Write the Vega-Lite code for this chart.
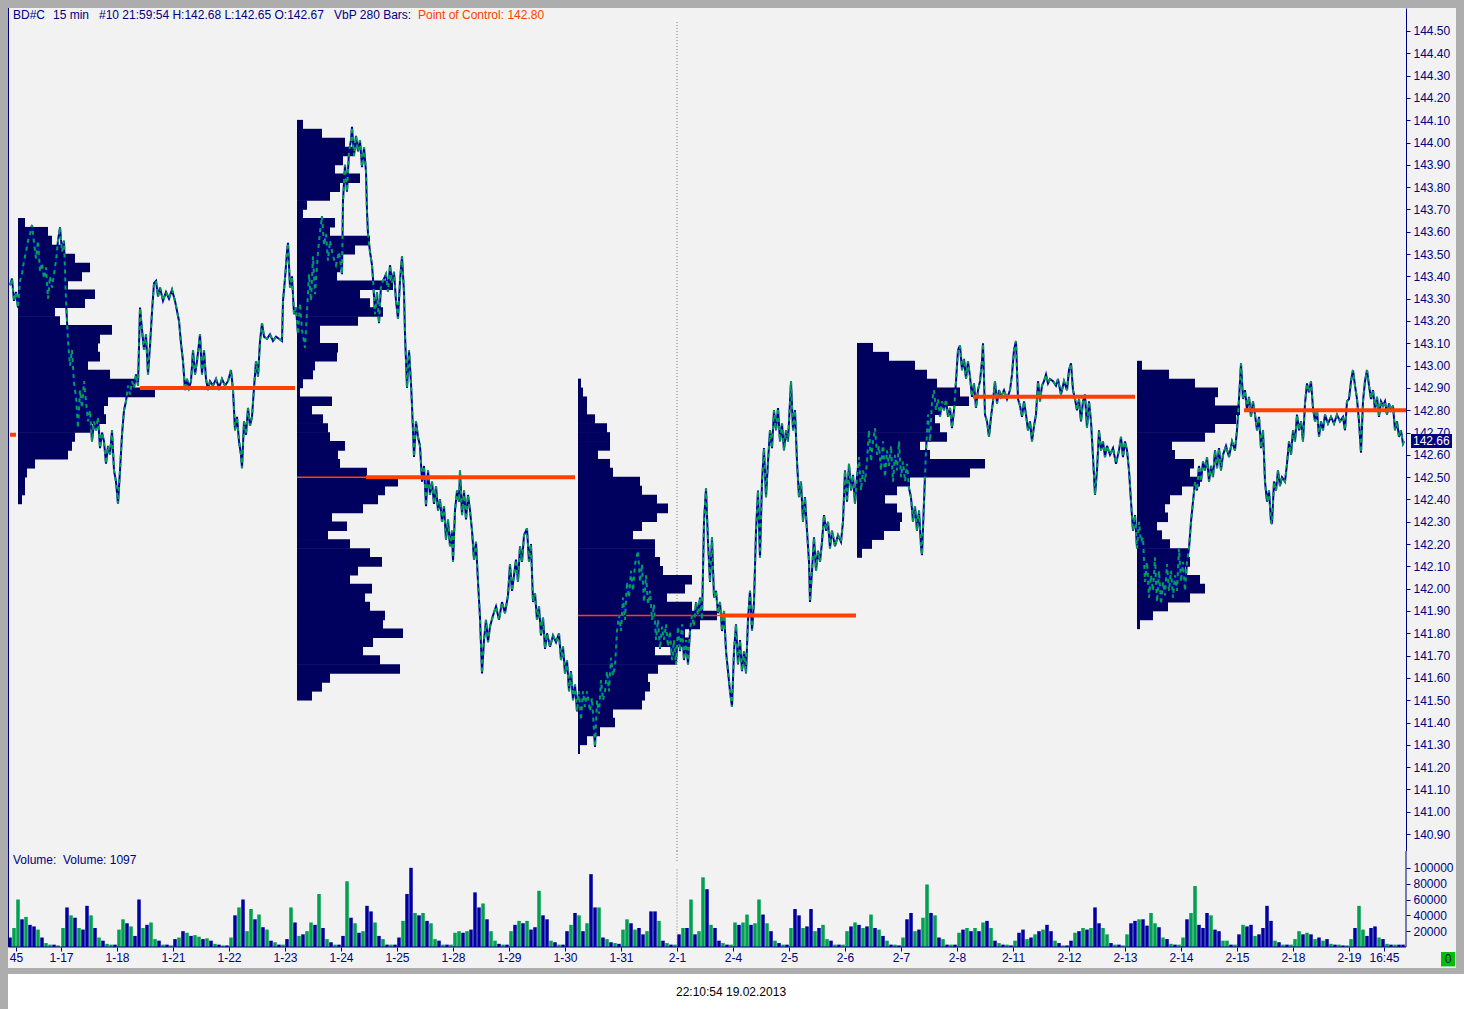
{
  "$schema": "https://vega.github.io/schema/vega-lite/v6.json",
  "background": "#adadad",
  "padding": {"left": 6, "top": 7, "right": 0, "bottom": 0},
  "spacing": 0,
  "bounds": "flush",
  "resolve": {"scale": {"x": "independent", "y": "independent", "color": "independent"}},
  "config": {
    "view": {"stroke": null},
    "font": "Liberation Sans",
    "scale": {"continuousPadding": 0},
    "axis": {
      "grid": false,
      "labelFont": "Liberation Sans", "labelFontSize": 12, "labelColor": "#000080",
      "tickColor": "#000080", "domainColor": "#000080", "tickSize": 4,
      "labelOverlap": false, "labelFlush": false, "labelBound": false
    }
  },
  "datasets": {
    "price": [
      {"t":2,"p":143.36},{"t":4,"p":143.39},{"t":6,"p":143.29},{"t":8,"p":143.33},{"t":10,"p":143.26},{"t":12,"p":143.38},{"t":14,"p":143.41},{"t":16,"p":143.47},{"t":18,"p":143.51},{"t":20,"p":143.56},
      {"t":22,"p":143.59},{"t":24,"p":143.63},{"t":26,"p":143.55},{"t":28,"p":143.48},{"t":30,"p":143.56},{"t":32,"p":143.42},{"t":34,"p":143.46},{"t":36,"p":143.39},{"t":38,"p":143.44},{"t":40,"p":143.30},
      {"t":42,"p":143.40},{"t":44,"p":143.35},{"t":46,"p":143.41},{"t":48,"p":143.47},{"t":50,"p":143.56},{"t":52,"p":143.62},{"t":54,"p":143.51},{"t":56,"p":143.56},{"t":58,"p":143.29},{"t":60,"p":143.11},
      {"t":62,"p":143.00},{"t":64,"p":143.07},{"t":66,"p":142.92},{"t":68,"p":142.86},{"t":70,"p":142.72},{"t":72,"p":142.89},{"t":74,"p":142.81},{"t":76,"p":142.93},{"t":78,"p":142.84},{"t":80,"p":142.75},
      {"t":82,"p":142.80},{"t":84,"p":142.66},{"t":86,"p":142.75},{"t":88,"p":142.71},{"t":90,"p":142.77},{"t":92,"p":142.63},{"t":94,"p":142.70},{"t":96,"p":142.66},{"t":98,"p":142.56},{"t":100,"p":142.64},
      {"t":102,"p":142.60},{"t":104,"p":142.71},{"t":106,"p":142.53},{"t":108,"p":142.48},{"t":110,"p":142.38},{"t":112,"p":142.53},{"t":114,"p":142.69},{"t":116,"p":142.80},{"t":118,"p":142.84},{"t":120,"p":142.91},
      {"t":122,"p":142.87},{"t":124,"p":142.93},{"t":126,"p":142.90},{"t":128,"p":142.96},{"t":130,"p":142.91},{"t":132,"p":143.26},{"t":134,"p":143.16},{"t":136,"p":143.07},{"t":138,"p":143.14},{"t":140,"p":142.96},
      {"t":142,"p":143.09},{"t":144,"p":143.24},{"t":146,"p":143.37},{"t":148,"p":143.38},{"t":150,"p":143.31},{"t":152,"p":143.35},{"t":155,"p":143.29},{"t":158,"p":143.33},{"t":161,"p":143.30},{"t":164,"p":143.34},
      {"t":167,"p":143.29},{"t":171,"p":143.20},{"t":173,"p":143.10},{"t":175,"p":143.02},{"t":177,"p":142.89},{"t":179,"p":142.94},{"t":181,"p":142.90},{"t":183,"p":142.93},{"t":185,"p":143.07},{"t":187,"p":142.96},
      {"t":189,"p":143.02},{"t":192,"p":143.14},{"t":194,"p":142.96},{"t":196,"p":143.07},{"t":198,"p":142.94},{"t":200,"p":142.89},{"t":202,"p":142.93},{"t":205,"p":142.91},{"t":208,"p":142.94},{"t":211,"p":142.90},
      {"t":214,"p":142.94},{"t":217,"p":142.91},{"t":220,"p":142.93},{"t":223,"p":142.98},{"t":225,"p":142.89},{"t":227,"p":142.71},{"t":229,"p":142.77},{"t":231,"p":142.66},{"t":233,"p":142.60},{"t":234,"p":142.54},
      {"t":236,"p":142.75},{"t":238,"p":142.69},{"t":240,"p":142.81},{"t":242,"p":142.73},{"t":244,"p":142.77},{"t":246,"p":142.90},{"t":248,"p":143.02},{"t":250,"p":142.95},{"t":252,"p":143.11},{"t":254,"p":143.19},
      {"t":256,"p":143.13},{"t":259,"p":143.12},{"t":262,"p":143.14},{"t":265,"p":143.11},{"t":268,"p":143.13},{"t":271,"p":143.12},{"t":274,"p":143.11},{"t":275,"p":143.29},{"t":277,"p":143.39},{"t":279,"p":143.51},
      {"t":280,"p":143.55},{"t":282,"p":143.35},{"t":284,"p":143.40},{"t":286,"p":143.23},{"t":288,"p":143.26},{"t":290,"p":143.14},{"t":292,"p":143.28},{"t":294,"p":143.16},{"t":297,"p":143.08},{"t":301,"p":143.41},
      {"t":303,"p":143.29},{"t":305,"p":143.49},{"t":307,"p":143.32},{"t":310,"p":143.51},{"t":312,"p":143.60},{"t":314,"p":143.67},{"t":316,"p":143.54},{"t":318,"p":143.59},{"t":320,"p":143.47},{"t":322,"p":143.56},
      {"t":325,"p":143.49},{"t":328,"p":143.45},{"t":331,"p":143.51},{"t":334,"p":143.41},{"t":335,"p":143.74},{"t":337,"p":143.90},{"t":339,"p":143.78},{"t":341,"p":143.96},{"t":343,"p":144.01},{"t":344,"p":144.07},
      {"t":346,"p":143.94},{"t":348,"p":144.03},{"t":350,"p":143.96},{"t":352,"p":144.01},{"t":354,"p":143.89},{"t":356,"p":143.98},{"t":358,"p":143.87},{"t":359,"p":143.69},{"t":360,"p":143.59},{"t":362,"p":143.51},
      {"t":364,"p":143.45},{"t":365,"p":143.39},{"t":367,"p":143.23},{"t":369,"p":143.33},{"t":371,"p":143.19},{"t":373,"p":143.36},{"t":375,"p":143.38},{"t":378,"p":143.41},{"t":380,"p":143.33},{"t":382,"p":143.45},
      {"t":384,"p":143.37},{"t":386,"p":143.42},{"t":388,"p":143.29},{"t":390,"p":143.21},{"t":392,"p":143.38},{"t":394,"p":143.49},{"t":396,"p":143.33},{"t":397,"p":143.14},{"t":399,"p":142.90},{"t":401,"p":143.07},
      {"t":403,"p":142.92},{"t":404,"p":142.82},{"t":406,"p":142.59},{"t":408,"p":142.75},{"t":410,"p":142.68},{"t":412,"p":142.64},{"t":414,"p":142.48},{"t":416,"p":142.55},{"t":418,"p":142.37},{"t":420,"p":142.53},
      {"t":422,"p":142.42},{"t":424,"p":142.48},{"t":426,"p":142.38},{"t":428,"p":142.46},{"t":430,"p":142.35},{"t":432,"p":142.40},{"t":434,"p":142.30},{"t":436,"p":142.37},{"t":438,"p":142.22},{"t":440,"p":142.31},
      {"t":442,"p":142.19},{"t":444,"p":142.26},{"t":445,"p":142.12},{"t":447,"p":142.35},{"t":449,"p":142.44},{"t":451,"p":142.39},{"t":452,"p":142.53},{"t":454,"p":142.33},{"t":456,"p":142.44},{"t":458,"p":142.31},
      {"t":460,"p":142.42},{"t":462,"p":142.35},{"t":464,"p":142.26},{"t":466,"p":142.13},{"t":468,"p":142.21},{"t":470,"p":142.03},{"t":472,"p":141.87},{"t":474,"p":141.62},{"t":476,"p":141.77},{"t":478,"p":141.86},
      {"t":480,"p":141.76},{"t":482,"p":141.83},{"t":485,"p":141.88},{"t":488,"p":141.92},{"t":491,"p":141.86},{"t":494,"p":141.94},{"t":497,"p":141.89},{"t":500,"p":141.97},{"t":502,"p":142.11},{"t":504,"p":141.99},
      {"t":506,"p":142.06},{"t":508,"p":142.13},{"t":510,"p":142.03},{"t":512,"p":142.19},{"t":514,"p":142.12},{"t":516,"p":142.24},{"t":519,"p":142.27},{"t":521,"p":142.12},{"t":523,"p":142.20},{"t":525,"p":141.94},
      {"t":527,"p":141.98},{"t":529,"p":141.86},{"t":531,"p":141.92},{"t":533,"p":141.79},{"t":535,"p":141.87},{"t":537,"p":141.73},{"t":539,"p":141.80},{"t":542,"p":141.74},{"t":545,"p":141.79},{"t":548,"p":141.76},
      {"t":551,"p":141.80},{"t":553,"p":141.68},{"t":555,"p":141.74},{"t":557,"p":141.62},{"t":559,"p":141.68},{"t":561,"p":141.54},{"t":563,"p":141.63},{"t":565,"p":141.50},{"t":567,"p":141.57},{"t":569,"p":141.45},
      {"t":571,"p":141.54},{"t":573,"p":141.41},{"t":575,"p":141.54},{"t":577,"p":141.47},{"t":579,"p":141.54},{"t":582,"p":141.45},{"t":584,"p":141.51},{"t":587,"p":141.29},{"t":589,"p":141.50},{"t":591,"p":141.44},
      {"t":593,"p":141.59},{"t":595,"p":141.50},{"t":597,"p":141.54},{"t":599,"p":141.63},{"t":601,"p":141.54},{"t":603,"p":141.69},{"t":605,"p":141.61},{"t":607,"p":141.65},{"t":609,"p":141.81},{"t":611,"p":141.88},
      {"t":613,"p":141.81},{"t":615,"p":141.96},{"t":617,"p":141.86},{"t":619,"p":142.03},{"t":621,"p":141.96},{"t":623,"p":142.08},{"t":625,"p":141.99},{"t":627,"p":142.11},{"t":630,"p":142.17},{"t":632,"p":142.03},
      {"t":634,"p":142.11},{"t":636,"p":141.94},{"t":638,"p":142.06},{"t":640,"p":141.93},{"t":642,"p":141.99},{"t":644,"p":141.86},{"t":646,"p":141.93},{"t":648,"p":141.77},{"t":650,"p":141.86},{"t":652,"p":141.73},
      {"t":654,"p":141.83},{"t":656,"p":141.77},{"t":658,"p":141.84},{"t":660,"p":141.74},{"t":662,"p":141.81},{"t":664,"p":141.68},{"t":666,"p":141.77},{"t":668,"p":141.66},{"t":670,"p":141.83},{"t":672,"p":141.72},
      {"t":674,"p":141.84},{"t":676,"p":141.68},{"t":678,"p":141.77},{"t":680,"p":141.66},{"t":682,"p":141.81},{"t":684,"p":141.88},{"t":686,"p":141.83},{"t":688,"p":141.94},{"t":690,"p":141.88},{"t":692,"p":141.96},
      {"t":694,"p":141.86},{"t":696,"p":142.30},{"t":698,"p":142.45},{"t":700,"p":142.21},{"t":702,"p":142.03},{"t":704,"p":142.23},{"t":706,"p":141.96},{"t":708,"p":141.99},{"t":710,"p":141.89},{"t":712,"p":141.94},
      {"t":714,"p":141.81},{"t":716,"p":141.90},{"t":718,"p":141.72},{"t":720,"p":141.63},{"t":722,"p":141.54},{"t":724,"p":141.47},{"t":726,"p":141.72},{"t":728,"p":141.84},{"t":730,"p":141.66},{"t":732,"p":141.77},
      {"t":734,"p":141.63},{"t":736,"p":141.72},{"t":738,"p":141.62},{"t":740,"p":141.86},{"t":742,"p":141.99},{"t":744,"p":141.81},{"t":746,"p":141.94},{"t":748,"p":142.26},{"t":750,"p":142.44},{"t":752,"p":142.14},
      {"t":754,"p":142.48},{"t":756,"p":142.63},{"t":758,"p":142.41},{"t":760,"p":142.57},{"t":762,"p":142.71},{"t":764,"p":142.63},{"t":766,"p":142.80},{"t":768,"p":142.71},{"t":770,"p":142.81},{"t":772,"p":142.66},
      {"t":774,"p":142.74},{"t":776,"p":142.62},{"t":778,"p":142.71},{"t":780,"p":142.66},{"t":782,"p":142.84},{"t":783,"p":142.93},{"t":785,"p":142.71},{"t":787,"p":142.80},{"t":789,"p":142.57},{"t":791,"p":142.41},
      {"t":793,"p":142.48},{"t":795,"p":142.30},{"t":797,"p":142.41},{"t":799,"p":142.26},{"t":801,"p":142.12},{"t":802,"p":141.94},{"t":804,"p":142.08},{"t":806,"p":142.23},{"t":808,"p":142.08},{"t":810,"p":142.17},
      {"t":812,"p":142.12},{"t":814,"p":142.21},{"t":816,"p":142.33},{"t":818,"p":142.26},{"t":820,"p":142.30},{"t":822,"p":142.18},{"t":824,"p":142.26},{"t":827,"p":142.19},{"t":830,"p":142.24},{"t":833,"p":142.21},
      {"t":835,"p":142.30},{"t":837,"p":142.53},{"t":839,"p":142.39},{"t":841,"p":142.56},{"t":843,"p":142.44},{"t":845,"p":142.51},{"t":847,"p":142.38},{"t":849,"p":142.50},{"t":851,"p":142.59},{"t":853,"p":142.44},
      {"t":855,"p":142.53},{"t":857,"p":142.48},{"t":859,"p":142.57},{"t":861,"p":142.71},{"t":863,"p":142.57},{"t":865,"p":142.66},{"t":867,"p":142.72},{"t":869,"p":142.60},{"t":871,"p":142.64},{"t":873,"p":142.53},
      {"t":875,"p":142.66},{"t":877,"p":142.50},{"t":879,"p":142.62},{"t":881,"p":142.55},{"t":883,"p":142.64},{"t":885,"p":142.48},{"t":887,"p":142.60},{"t":889,"p":142.53},{"t":891,"p":142.66},{"t":893,"p":142.50},
      {"t":895,"p":142.57},{"t":897,"p":142.48},{"t":899,"p":142.56},{"t":901,"p":142.45},{"t":903,"p":142.41},{"t":905,"p":142.30},{"t":907,"p":142.37},{"t":909,"p":142.26},{"t":911,"p":142.35},{"t":913,"p":142.19},
      {"t":914,"p":142.15},{"t":916,"p":142.39},{"t":918,"p":142.62},{"t":920,"p":142.78},{"t":922,"p":142.66},{"t":924,"p":142.84},{"t":926,"p":142.89},{"t":928,"p":142.80},{"t":930,"p":142.85},{"t":932,"p":142.77},
      {"t":934,"p":142.84},{"t":936,"p":142.80},{"t":938,"p":142.85},{"t":940,"p":142.77},{"t":942,"p":142.81},{"t":944,"p":142.72},{"t":946,"p":142.80},{"t":948,"p":142.93},{"t":950,"p":143.07},{"t":952,"p":143.09},
      {"t":954,"p":142.98},{"t":956,"p":143.03},{"t":958,"p":142.94},{"t":960,"p":143.02},{"t":962,"p":142.95},{"t":964,"p":142.86},{"t":966,"p":142.92},{"t":968,"p":142.81},{"t":970,"p":142.89},{"t":972,"p":142.93},
      {"t":974,"p":143.02},{"t":975,"p":143.10},{"t":977,"p":142.78},{"t":979,"p":142.75},{"t":981,"p":142.68},{"t":983,"p":142.77},{"t":985,"p":142.84},{"t":987,"p":142.93},{"t":989,"p":142.83},{"t":991,"p":142.89},
      {"t":993,"p":142.86},{"t":996,"p":142.89},{"t":999,"p":142.85},{"t":1002,"p":142.89},{"t":1004,"p":142.96},{"t":1006,"p":143.07},{"t":1008,"p":143.11},{"t":1010,"p":142.85},{"t":1012,"p":142.82},{"t":1014,"p":142.77},
      {"t":1016,"p":142.84},{"t":1018,"p":142.78},{"t":1020,"p":142.71},{"t":1022,"p":142.75},{"t":1024,"p":142.66},{"t":1026,"p":142.73},{"t":1028,"p":142.78},{"t":1030,"p":142.93},{"t":1032,"p":142.84},{"t":1034,"p":142.91},
      {"t":1036,"p":142.93},{"t":1038,"p":142.96},{"t":1040,"p":142.92},{"t":1042,"p":142.94},{"t":1045,"p":142.93},{"t":1048,"p":142.91},{"t":1050,"p":142.94},{"t":1053,"p":142.87},{"t":1056,"p":142.93},{"t":1059,"p":142.89},
      {"t":1061,"p":142.98},{"t":1063,"p":143.01},{"t":1065,"p":142.89},{"t":1067,"p":142.85},{"t":1069,"p":142.80},{"t":1071,"p":142.85},{"t":1073,"p":142.75},{"t":1075,"p":142.84},{"t":1077,"p":142.87},{"t":1079,"p":142.72},
      {"t":1081,"p":142.84},{"t":1083,"p":142.75},{"t":1085,"p":142.59},{"t":1087,"p":142.42},{"t":1089,"p":142.53},{"t":1091,"p":142.71},{"t":1093,"p":142.62},{"t":1095,"p":142.66},{"t":1097,"p":142.59},{"t":1099,"p":142.64},
      {"t":1102,"p":142.60},{"t":1105,"p":142.63},{"t":1108,"p":142.56},{"t":1111,"p":142.62},{"t":1113,"p":142.68},{"t":1115,"p":142.59},{"t":1117,"p":142.66},{"t":1119,"p":142.62},{"t":1121,"p":142.53},{"t":1123,"p":142.39},
      {"t":1125,"p":142.26},{"t":1127,"p":142.33},{"t":1129,"p":142.18},{"t":1131,"p":142.30},{"t":1133,"p":142.21},{"t":1135,"p":142.23},{"t":1137,"p":142.03},{"t":1139,"p":142.12},{"t":1141,"p":141.96},{"t":1143,"p":142.06},
      {"t":1145,"p":141.99},{"t":1147,"p":142.14},{"t":1149,"p":141.94},{"t":1151,"p":142.08},{"t":1153,"p":141.93},{"t":1155,"p":142.03},{"t":1157,"p":141.97},{"t":1159,"p":142.11},{"t":1161,"p":141.99},{"t":1163,"p":142.08},
      {"t":1165,"p":141.96},{"t":1167,"p":142.06},{"t":1169,"p":141.99},{"t":1171,"p":142.18},{"t":1173,"p":142.03},{"t":1175,"p":142.12},{"t":1177,"p":141.99},{"t":1179,"p":142.12},{"t":1181,"p":142.18},{"t":1183,"p":142.30},
      {"t":1185,"p":142.39},{"t":1187,"p":142.48},{"t":1189,"p":142.44},{"t":1191,"p":142.55},{"t":1193,"p":142.48},{"t":1195,"p":142.57},{"t":1197,"p":142.53},{"t":1199,"p":142.59},{"t":1201,"p":142.48},{"t":1203,"p":142.55},
      {"t":1205,"p":142.50},{"t":1207,"p":142.62},{"t":1209,"p":142.54},{"t":1211,"p":142.63},{"t":1213,"p":142.53},{"t":1215,"p":142.60},{"t":1218,"p":142.64},{"t":1221,"p":142.59},{"t":1224,"p":142.66},{"t":1227,"p":142.62},
      {"t":1229,"p":142.71},{"t":1231,"p":142.85},{"t":1233,"p":143.01},{"t":1235,"p":142.85},{"t":1237,"p":142.89},{"t":1239,"p":142.80},{"t":1241,"p":142.86},{"t":1243,"p":142.77},{"t":1245,"p":142.84},{"t":1247,"p":142.78},
      {"t":1249,"p":142.71},{"t":1251,"p":142.77},{"t":1253,"p":142.63},{"t":1255,"p":142.71},{"t":1257,"p":142.48},{"t":1259,"p":142.39},{"t":1261,"p":142.44},{"t":1263,"p":142.30},{"t":1264,"p":142.29},{"t":1266,"p":142.48},
      {"t":1268,"p":142.44},{"t":1270,"p":142.53},{"t":1272,"p":142.46},{"t":1274,"p":142.50},{"t":1277,"p":142.48},{"t":1279,"p":142.56},{"t":1281,"p":142.66},{"t":1283,"p":142.60},{"t":1285,"p":142.71},{"t":1287,"p":142.66},
      {"t":1289,"p":142.78},{"t":1291,"p":142.71},{"t":1293,"p":142.75},{"t":1295,"p":142.66},{"t":1297,"p":142.83},{"t":1299,"p":142.92},{"t":1301,"p":142.88},{"t":1303,"p":142.93},{"t":1305,"p":142.81},{"t":1307,"p":142.75},
      {"t":1309,"p":142.80},{"t":1311,"p":142.68},{"t":1313,"p":142.75},{"t":1315,"p":142.71},{"t":1317,"p":142.78},{"t":1320,"p":142.74},{"t":1323,"p":142.77},{"t":1326,"p":142.74},{"t":1329,"p":142.78},{"t":1332,"p":142.75},
      {"t":1335,"p":142.77},{"t":1337,"p":142.71},{"t":1339,"p":142.84},{"t":1341,"p":142.85},{"t":1343,"p":142.93},{"t":1345,"p":142.98},{"t":1347,"p":142.91},{"t":1349,"p":142.85},{"t":1351,"p":142.75},{"t":1353,"p":142.61},
      {"t":1355,"p":142.84},{"t":1357,"p":142.93},{"t":1359,"p":142.98},{"t":1361,"p":142.91},{"t":1363,"p":142.85},{"t":1365,"p":142.89},{"t":1367,"p":142.80},{"t":1369,"p":142.86},{"t":1371,"p":142.77},{"t":1373,"p":142.84},
      {"t":1375,"p":142.82},{"t":1377,"p":142.84},{"t":1379,"p":142.78},{"t":1381,"p":142.83},{"t":1383,"p":142.80},{"t":1385,"p":142.82},{"t":1387,"p":142.71},{"t":1389,"p":142.75},{"t":1391,"p":142.68},{"t":1393,"p":142.71},
      {"t":1395,"p":142.65},{"t":1396,"p":142.66}
    ],
    "prof": [
      {"a":10,"b":17,"p":143.64},{"a":10,"b":40,"p":143.60},{"a":10,"b":44,"p":143.56},{"a":10,"b":57,"p":143.52},{"a":10,"b":67,"p":143.48},{"a":10,"b":82,"p":143.44},{"a":10,"b":74,"p":143.40},{"a":10,"b":60,"p":143.36},
      {"a":10,"b":87,"p":143.32},{"a":10,"b":77,"p":143.28},{"a":10,"b":47,"p":143.24},{"a":10,"b":52,"p":143.20},{"a":10,"b":104,"p":143.16},{"a":10,"b":92,"p":143.12},{"a":10,"b":90,"p":143.08},{"a":10,"b":92,"p":143.04},
      {"a":10,"b":80,"p":143.00},{"a":10,"b":102,"p":142.96},{"a":10,"b":127,"p":142.92},{"a":10,"b":147,"p":142.88},{"a":10,"b":100,"p":142.84},{"a":10,"b":96,"p":142.80},{"a":10,"b":98,"p":142.76},{"a":10,"b":82,"p":142.72},
      {"a":10,"b":67,"p":142.68},{"a":10,"b":64,"p":142.64},{"a":10,"b":60,"p":142.60},{"a":10,"b":27,"p":142.56},{"a":10,"b":19,"p":142.52},{"a":10,"b":17,"p":142.48},{"a":10,"b":17,"p":142.44},{"a":10,"b":14,"p":142.40},
      {"a":289,"b":295,"p":144.08},{"a":289,"b":314,"p":144.04},{"a":289,"b":337,"p":144.00},{"a":289,"b":347,"p":143.96},{"a":289,"b":335,"p":143.92},{"a":289,"b":327,"p":143.88},{"a":289,"b":352,"p":143.84},{"a":289,"b":332,"p":143.80},
      {"a":289,"b":322,"p":143.76},{"a":289,"b":299,"p":143.72},{"a":289,"b":295,"p":143.68},{"a":289,"b":327,"p":143.64},{"a":289,"b":322,"p":143.60},{"a":289,"b":362,"p":143.56},{"a":289,"b":347,"p":143.52},{"a":289,"b":334,"p":143.48},
      {"a":289,"b":332,"p":143.44},{"a":289,"b":329,"p":143.40},{"a":289,"b":385,"p":143.36},{"a":289,"b":352,"p":143.32},{"a":289,"b":362,"p":143.28},{"a":289,"b":375,"p":143.24},{"a":289,"b":350,"p":143.20},{"a":289,"b":312,"p":143.16},
      {"a":289,"b":312,"p":143.12},{"a":289,"b":330,"p":143.08},{"a":289,"b":329,"p":143.04},{"a":289,"b":307,"p":143.00},{"a":289,"b":305,"p":142.96},{"a":289,"b":295,"p":142.92},{"a":289,"b":292,"p":142.88},{"a":289,"b":324,"p":142.84},
      {"a":289,"b":304,"p":142.80},{"a":289,"b":315,"p":142.76},{"a":289,"b":320,"p":142.72},{"a":289,"b":322,"p":142.68},{"a":289,"b":337,"p":142.64},{"a":289,"b":330,"p":142.60},{"a":289,"b":332,"p":142.56},{"a":289,"b":359,"p":142.52},
      {"a":289,"b":390,"p":142.48},{"a":289,"b":377,"p":142.44},{"a":289,"b":370,"p":142.40},{"a":289,"b":355,"p":142.36},{"a":289,"b":324,"p":142.32},{"a":289,"b":339,"p":142.28},{"a":289,"b":320,"p":142.24},{"a":289,"b":342,"p":142.20},
      {"a":289,"b":362,"p":142.16},{"a":289,"b":374,"p":142.12},{"a":289,"b":350,"p":142.08},{"a":289,"b":342,"p":142.04},{"a":289,"b":364,"p":142.00},{"a":289,"b":357,"p":141.96},{"a":289,"b":362,"p":141.92},{"a":289,"b":377,"p":141.88},
      {"a":289,"b":375,"p":141.84},{"a":289,"b":395,"p":141.80},{"a":289,"b":365,"p":141.76},{"a":289,"b":355,"p":141.72},{"a":289,"b":372,"p":141.68},{"a":289,"b":392,"p":141.64},{"a":289,"b":322,"p":141.60},{"a":289,"b":314,"p":141.56},
      {"a":289,"b":304,"p":141.52},
      {"a":570,"b":573,"p":142.92},{"a":570,"b":575,"p":142.88},{"a":570,"b":579,"p":142.84},{"a":570,"b":579,"p":142.80},{"a":570,"b":587,"p":142.76},{"a":570,"b":599,"p":142.72},{"a":570,"b":602,"p":142.68},{"a":570,"b":602,"p":142.64},
      {"a":570,"b":590,"p":142.60},{"a":570,"b":602,"p":142.56},{"a":570,"b":605,"p":142.52},{"a":570,"b":632,"p":142.48},{"a":570,"b":634,"p":142.44},{"a":570,"b":649,"p":142.40},{"a":570,"b":660,"p":142.36},{"a":570,"b":649,"p":142.32},
      {"a":570,"b":634,"p":142.28},{"a":570,"b":625,"p":142.24},{"a":570,"b":647,"p":142.20},{"a":570,"b":647,"p":142.16},{"a":570,"b":652,"p":142.12},{"a":570,"b":655,"p":142.08},{"a":570,"b":684,"p":142.04},{"a":570,"b":677,"p":142.00},
      {"a":570,"b":659,"p":141.96},{"a":570,"b":684,"p":141.92},{"a":570,"b":709,"p":141.88},{"a":570,"b":692,"p":141.84},{"a":570,"b":677,"p":141.80},{"a":570,"b":682,"p":141.76},{"a":570,"b":647,"p":141.72},{"a":570,"b":667,"p":141.68},
      {"a":570,"b":650,"p":141.64},{"a":570,"b":640,"p":141.60},{"a":570,"b":642,"p":141.56},{"a":570,"b":637,"p":141.52},{"a":570,"b":634,"p":141.48},{"a":570,"b":605,"p":141.44},{"a":570,"b":607,"p":141.40},{"a":570,"b":592,"p":141.36},
      {"a":570,"b":579,"p":141.32},{"a":570,"b":572,"p":141.28},
      {"a":849,"b":865,"p":143.08},{"a":849,"b":881,"p":143.04},{"a":849,"b":907,"p":143.00},{"a":849,"b":919,"p":142.96},{"a":849,"b":929,"p":142.92},{"a":849,"b":952,"p":142.88},{"a":849,"b":961,"p":142.84},{"a":849,"b":932,"p":142.80},
      {"a":849,"b":927,"p":142.76},{"a":849,"b":932,"p":142.72},{"a":849,"b":939,"p":142.68},{"a":849,"b":912,"p":142.64},{"a":849,"b":922,"p":142.60},{"a":849,"b":977,"p":142.56},{"a":849,"b":962,"p":142.52},{"a":849,"b":902,"p":142.48},
      {"a":849,"b":889,"p":142.44},{"a":849,"b":877,"p":142.40},{"a":849,"b":889,"p":142.36},{"a":849,"b":894,"p":142.32},{"a":849,"b":892,"p":142.28},{"a":849,"b":876,"p":142.24},{"a":849,"b":864,"p":142.20},{"a":849,"b":854,"p":142.16},
      {"a":1129,"b":1134,"p":143.00},{"a":1129,"b":1161,"p":142.96},{"a":1129,"b":1187,"p":142.92},{"a":1129,"b":1210,"p":142.88},{"a":1129,"b":1207,"p":142.84},{"a":1129,"b":1232,"p":142.80},{"a":1129,"b":1228,"p":142.76},{"a":1129,"b":1207,"p":142.72},
      {"a":1129,"b":1197,"p":142.68},{"a":1129,"b":1164,"p":142.64},{"a":1129,"b":1167,"p":142.60},{"a":1129,"b":1186,"p":142.56},{"a":1129,"b":1182,"p":142.52},{"a":1129,"b":1192,"p":142.48},{"a":1129,"b":1174,"p":142.44},{"a":1129,"b":1162,"p":142.40},
      {"a":1129,"b":1157,"p":142.36},{"a":1129,"b":1160,"p":142.32},{"a":1129,"b":1149,"p":142.28},{"a":1129,"b":1154,"p":142.24},{"a":1129,"b":1162,"p":142.20},{"a":1129,"b":1181,"p":142.16},{"a":1129,"b":1182,"p":142.12},{"a":1129,"b":1177,"p":142.08},
      {"a":1129,"b":1192,"p":142.04},{"a":1129,"b":1197,"p":142.00},{"a":1129,"b":1182,"p":141.96},{"a":1129,"b":1160,"p":141.92},{"a":1129,"b":1145,"p":141.88},{"a":1129,"b":1132,"p":141.84}
    ],
    "poc": [
      {"a":2,"b":8,"p":142.69,"k":"thick"},
      {"a":132,"b":287,"p":142.90,"k":"thick"},
      {"a":358,"b":567,"p":142.50,"k":"thick"},
      {"a":712,"b":848,"p":141.88,"k":"thick"},
      {"a":965,"b":1127,"p":142.86,"k":"thick"},
      {"a":1236,"b":1398,"p":142.80,"k":"thick"},
      {"a":289,"b":358,"p":142.50,"k":"thin"},
      {"a":570,"b":712,"p":141.88,"k":"thin"}
    ],
    "vol": [
      {"t":2,"v":12000,"c":"d"},{"t":6,"v":24000,"c":"u"},{"t":10,"v":60000,"c":"u"},{"t":14,"v":35000,"c":"d"},{"t":18,"v":38000,"c":"u"},{"t":22,"v":28000,"c":"d"},{"t":26,"v":26000,"c":"d"},{"t":30,"v":22000,"c":"u"},{"t":34,"v":12000,"c":"d"},{"t":38,"v":5000,"c":"u"},{"t":42,"v":3000,"c":"u"},{"t":46,"v":3000,"c":"d"},{"t":50,"v":2000,"c":"u"},
      {"t":55,"v":24000,"c":"u"},{"t":59,"v":50000,"c":"d"},{"t":63,"v":40000,"c":"u"},{"t":67,"v":37000,"c":"d"},{"t":71,"v":24000,"c":"u"},{"t":75,"v":22000,"c":"d"},{"t":79,"v":52000,"c":"d"},{"t":83,"v":40000,"c":"u"},{"t":87,"v":24000,"c":"d"},{"t":91,"v":12000,"c":"u"},{"t":95,"v":8000,"c":"d"},{"t":99,"v":4000,"c":"u"},{"t":103,"v":3000,"c":"u"},{"t":107,"v":3000,"c":"d"},
      {"t":111,"v":22000,"c":"u"},{"t":115,"v":35000,"c":"u"},{"t":119,"v":30000,"c":"d"},{"t":123,"v":26000,"c":"u"},{"t":127,"v":14000,"c":"d"},{"t":131,"v":60000,"c":"d"},{"t":135,"v":24000,"c":"u"},{"t":139,"v":28000,"c":"d"},{"t":143,"v":31000,"c":"u"},{"t":147,"v":10000,"c":"u"},{"t":151,"v":8000,"c":"d"},{"t":155,"v":3000,"c":"u"},{"t":159,"v":3000,"c":"d"},{"t":163,"v":2000,"c":"u"},
      {"t":167,"v":10000,"c":"d"},{"t":171,"v":12000,"c":"u"},{"t":175,"v":20000,"c":"d"},{"t":179,"v":18000,"c":"u"},{"t":183,"v":14000,"c":"d"},{"t":187,"v":15000,"c":"u"},{"t":191,"v":13000,"c":"u"},{"t":195,"v":10000,"c":"d"},{"t":199,"v":11000,"c":"u"},{"t":203,"v":8000,"c":"d"},{"t":207,"v":4000,"c":"u"},{"t":211,"v":3000,"c":"d"},{"t":215,"v":2000,"c":"u"},{"t":219,"v":2000,"c":"d"},
      {"t":223,"v":12000,"c":"u"},{"t":227,"v":40000,"c":"d"},{"t":231,"v":50000,"c":"u"},{"t":235,"v":60000,"c":"d"},{"t":239,"v":20000,"c":"u"},{"t":243,"v":48000,"c":"u"},{"t":247,"v":35000,"c":"d"},{"t":251,"v":41000,"c":"u"},{"t":255,"v":25000,"c":"d"},{"t":259,"v":22000,"c":"u"},{"t":263,"v":8000,"c":"d"},{"t":267,"v":6000,"c":"u"},{"t":271,"v":3000,"c":"d"},{"t":275,"v":3000,"c":"u"},
      {"t":279,"v":10000,"c":"d"},{"t":283,"v":50000,"c":"u"},{"t":287,"v":31000,"c":"d"},{"t":291,"v":14000,"c":"u"},{"t":295,"v":16000,"c":"d"},{"t":299,"v":20000,"c":"u"},{"t":303,"v":31000,"c":"u"},{"t":307,"v":28000,"c":"d"},{"t":311,"v":67000,"c":"u"},{"t":315,"v":24000,"c":"d"},{"t":319,"v":10000,"c":"u"},{"t":323,"v":6000,"c":"d"},{"t":327,"v":3000,"c":"u"},{"t":331,"v":3000,"c":"d"},
      {"t":335,"v":14000,"c":"d"},{"t":339,"v":83000,"c":"u"},{"t":343,"v":37000,"c":"d"},{"t":347,"v":30000,"c":"u"},{"t":351,"v":18000,"c":"d"},{"t":355,"v":20000,"c":"u"},{"t":359,"v":52000,"c":"d"},{"t":363,"v":45000,"c":"d"},{"t":367,"v":31000,"c":"u"},{"t":371,"v":14000,"c":"d"},{"t":375,"v":10000,"c":"u"},{"t":379,"v":3000,"c":"d"},{"t":383,"v":3000,"c":"u"},{"t":387,"v":3000,"c":"d"},
      {"t":391,"v":12000,"c":"d"},{"t":395,"v":33000,"c":"u"},{"t":399,"v":67000,"c":"d"},{"t":403,"v":100000,"c":"d"},{"t":407,"v":43000,"c":"u"},{"t":411,"v":40000,"c":"d"},{"t":415,"v":43000,"c":"u"},{"t":419,"v":33000,"c":"d"},{"t":423,"v":30000,"c":"u"},{"t":427,"v":10000,"c":"u"},{"t":431,"v":8000,"c":"d"},{"t":435,"v":3000,"c":"u"},{"t":439,"v":3000,"c":"d"},{"t":443,"v":3000,"c":"u"},
      {"t":447,"v":18000,"c":"u"},{"t":451,"v":20000,"c":"u"},{"t":455,"v":18000,"c":"d"},{"t":459,"v":20000,"c":"u"},{"t":463,"v":22000,"c":"d"},{"t":467,"v":69000,"c":"d"},{"t":471,"v":50000,"c":"d"},{"t":475,"v":55000,"c":"u"},{"t":479,"v":35000,"c":"d"},{"t":483,"v":20000,"c":"u"},{"t":487,"v":8000,"c":"u"},{"t":491,"v":4000,"c":"d"},{"t":495,"v":3000,"c":"u"},{"t":499,"v":3000,"c":"d"},
      {"t":503,"v":20000,"c":"u"},{"t":507,"v":28000,"c":"d"},{"t":511,"v":33000,"c":"u"},{"t":515,"v":30000,"c":"d"},{"t":519,"v":33000,"c":"u"},{"t":523,"v":22000,"c":"d"},{"t":527,"v":25000,"c":"d"},{"t":531,"v":71000,"c":"u"},{"t":535,"v":40000,"c":"d"},{"t":539,"v":35000,"c":"d"},{"t":543,"v":8000,"c":"u"},{"t":547,"v":6000,"c":"d"},{"t":551,"v":3000,"c":"u"},{"t":555,"v":3000,"c":"d"},
      {"t":559,"v":20000,"c":"d"},{"t":563,"v":28000,"c":"u"},{"t":567,"v":43000,"c":"d"},{"t":571,"v":40000,"c":"u"},{"t":575,"v":20000,"c":"d"},{"t":579,"v":30000,"c":"u"},{"t":583,"v":92000,"c":"d"},{"t":587,"v":50000,"c":"d"},{"t":591,"v":50000,"c":"u"},{"t":595,"v":12000,"c":"d"},{"t":599,"v":10000,"c":"u"},{"t":603,"v":6000,"c":"d"},{"t":607,"v":5000,"c":"u"},{"t":611,"v":4000,"c":"d"},
      {"t":615,"v":22000,"c":"u"},{"t":619,"v":35000,"c":"u"},{"t":623,"v":30000,"c":"d"},{"t":627,"v":22000,"c":"u"},{"t":631,"v":24000,"c":"d"},{"t":635,"v":16000,"c":"d"},{"t":639,"v":20000,"c":"u"},{"t":643,"v":45000,"c":"d"},{"t":647,"v":45000,"c":"d"},{"t":651,"v":33000,"c":"u"},{"t":655,"v":8000,"c":"d"},{"t":659,"v":5000,"c":"u"},{"t":663,"v":3000,"c":"d"},{"t":667,"v":3000,"c":"u"},
      {"t":671,"v":16000,"c":"d"},{"t":675,"v":24000,"c":"u"},{"t":679,"v":24000,"c":"d"},{"t":683,"v":60000,"c":"u"},{"t":687,"v":16000,"c":"d"},{"t":691,"v":20000,"c":"u"},{"t":695,"v":88000,"c":"u"},{"t":699,"v":73000,"c":"d"},{"t":703,"v":28000,"c":"u"},{"t":707,"v":24000,"c":"d"},{"t":711,"v":8000,"c":"d"},{"t":715,"v":5000,"c":"u"},{"t":719,"v":3000,"c":"d"},{"t":723,"v":3000,"c":"u"},
      {"t":727,"v":31000,"c":"u"},{"t":731,"v":28000,"c":"d"},{"t":735,"v":31000,"c":"u"},{"t":739,"v":41000,"c":"u"},{"t":743,"v":28000,"c":"d"},{"t":747,"v":30000,"c":"u"},{"t":751,"v":60000,"c":"u"},{"t":755,"v":41000,"c":"d"},{"t":759,"v":30000,"c":"u"},{"t":763,"v":20000,"c":"d"},{"t":767,"v":8000,"c":"u"},{"t":771,"v":5000,"c":"d"},{"t":775,"v":3000,"c":"u"},{"t":779,"v":3000,"c":"d"},
      {"t":783,"v":24000,"c":"u"},{"t":787,"v":48000,"c":"d"},{"t":791,"v":40000,"c":"d"},{"t":795,"v":24000,"c":"u"},{"t":799,"v":26000,"c":"d"},{"t":803,"v":48000,"c":"d"},{"t":807,"v":20000,"c":"u"},{"t":811,"v":24000,"c":"d"},{"t":815,"v":28000,"c":"u"},{"t":819,"v":10000,"c":"u"},{"t":823,"v":8000,"c":"d"},{"t":827,"v":3000,"c":"u"},{"t":831,"v":3000,"c":"d"},{"t":835,"v":3000,"c":"u"},
      {"t":839,"v":20000,"c":"u"},{"t":843,"v":26000,"c":"d"},{"t":847,"v":31000,"c":"u"},{"t":851,"v":28000,"c":"d"},{"t":855,"v":24000,"c":"u"},{"t":859,"v":26000,"c":"d"},{"t":863,"v":41000,"c":"u"},{"t":867,"v":24000,"c":"d"},{"t":871,"v":22000,"c":"u"},{"t":875,"v":14000,"c":"d"},{"t":879,"v":8000,"c":"u"},{"t":883,"v":3000,"c":"d"},{"t":887,"v":3000,"c":"u"},{"t":891,"v":2000,"c":"d"},
      {"t":895,"v":12000,"c":"u"},{"t":899,"v":35000,"c":"d"},{"t":903,"v":43000,"c":"d"},{"t":907,"v":20000,"c":"u"},{"t":911,"v":22000,"c":"d"},{"t":915,"v":37000,"c":"u"},{"t":919,"v":79000,"c":"u"},{"t":923,"v":43000,"c":"d"},{"t":927,"v":40000,"c":"u"},{"t":931,"v":12000,"c":"d"},{"t":935,"v":10000,"c":"u"},{"t":939,"v":3000,"c":"d"},{"t":943,"v":3000,"c":"u"},{"t":947,"v":3000,"c":"d"},
      {"t":951,"v":18000,"c":"u"},{"t":955,"v":22000,"c":"d"},{"t":959,"v":24000,"c":"u"},{"t":963,"v":20000,"c":"d"},{"t":967,"v":24000,"c":"u"},{"t":971,"v":20000,"c":"d"},{"t":975,"v":31000,"c":"u"},{"t":979,"v":33000,"c":"d"},{"t":983,"v":24000,"c":"u"},{"t":987,"v":8000,"c":"d"},{"t":991,"v":5000,"c":"u"},{"t":995,"v":3000,"c":"d"},{"t":999,"v":3000,"c":"u"},{"t":1003,"v":2000,"c":"d"},
      {"t":1007,"v":8000,"c":"u"},{"t":1011,"v":18000,"c":"d"},{"t":1015,"v":22000,"c":"d"},{"t":1019,"v":10000,"c":"u"},{"t":1023,"v":12000,"c":"d"},{"t":1027,"v":16000,"c":"u"},{"t":1031,"v":20000,"c":"d"},{"t":1035,"v":22000,"c":"u"},{"t":1039,"v":28000,"c":"d"},{"t":1043,"v":20000,"c":"d"},{"t":1047,"v":8000,"c":"u"},{"t":1051,"v":5000,"c":"d"},{"t":1055,"v":2000,"c":"u"},{"t":1059,"v":2000,"c":"d"},
      {"t":1063,"v":8000,"c":"d"},{"t":1067,"v":18000,"c":"u"},{"t":1071,"v":20000,"c":"d"},{"t":1075,"v":24000,"c":"u"},{"t":1079,"v":22000,"c":"d"},{"t":1083,"v":24000,"c":"u"},{"t":1087,"v":50000,"c":"d"},{"t":1091,"v":30000,"c":"d"},{"t":1095,"v":24000,"c":"u"},{"t":1099,"v":16000,"c":"u"},{"t":1103,"v":5000,"c":"d"},{"t":1107,"v":3000,"c":"u"},{"t":1111,"v":3000,"c":"d"},{"t":1115,"v":2000,"c":"u"},
      {"t":1119,"v":16000,"c":"u"},{"t":1123,"v":30000,"c":"d"},{"t":1127,"v":33000,"c":"d"},{"t":1131,"v":35000,"c":"u"},{"t":1135,"v":35000,"c":"d"},{"t":1139,"v":27000,"c":"d"},{"t":1143,"v":43000,"c":"u"},{"t":1147,"v":30000,"c":"u"},{"t":1151,"v":25000,"c":"d"},{"t":1155,"v":12000,"c":"u"},{"t":1159,"v":10000,"c":"d"},{"t":1163,"v":4000,"c":"u"},{"t":1167,"v":3000,"c":"d"},{"t":1171,"v":3000,"c":"u"},
      {"t":1175,"v":12000,"c":"u"},{"t":1179,"v":35000,"c":"d"},{"t":1183,"v":43000,"c":"u"},{"t":1187,"v":77000,"c":"u"},{"t":1191,"v":28000,"c":"d"},{"t":1195,"v":24000,"c":"d"},{"t":1199,"v":43000,"c":"d"},{"t":1203,"v":40000,"c":"u"},{"t":1207,"v":22000,"c":"d"},{"t":1211,"v":20000,"c":"d"},{"t":1215,"v":8000,"c":"u"},{"t":1219,"v":8000,"c":"u"},{"t":1223,"v":3000,"c":"d"},{"t":1227,"v":3000,"c":"u"},
      {"t":1231,"v":16000,"c":"d"},{"t":1235,"v":28000,"c":"u"},{"t":1239,"v":26000,"c":"d"},{"t":1243,"v":28000,"c":"d"},{"t":1247,"v":14000,"c":"u"},{"t":1251,"v":16000,"c":"d"},{"t":1255,"v":24000,"c":"d"},{"t":1259,"v":52000,"c":"d"},{"t":1263,"v":33000,"c":"d"},{"t":1267,"v":8000,"c":"u"},{"t":1271,"v":6000,"c":"d"},{"t":1275,"v":3000,"c":"u"},{"t":1279,"v":3000,"c":"d"},{"t":1283,"v":3000,"c":"u"},
      {"t":1287,"v":10000,"c":"u"},{"t":1291,"v":20000,"c":"u"},{"t":1295,"v":16000,"c":"d"},{"t":1299,"v":18000,"c":"u"},{"t":1303,"v":16000,"c":"d"},{"t":1307,"v":10000,"c":"u"},{"t":1311,"v":12000,"c":"d"},{"t":1315,"v":8000,"c":"u"},{"t":1319,"v":10000,"c":"d"},{"t":1323,"v":4000,"c":"u"},{"t":1327,"v":3000,"c":"d"},{"t":1331,"v":3000,"c":"u"},{"t":1335,"v":2000,"c":"d"},{"t":1339,"v":2000,"c":"u"},
      {"t":1343,"v":10000,"c":"u"},{"t":1347,"v":24000,"c":"d"},{"t":1351,"v":52000,"c":"u"},{"t":1355,"v":22000,"c":"u"},{"t":1359,"v":14000,"c":"d"},{"t":1363,"v":24000,"c":"d"},{"t":1367,"v":26000,"c":"d"},{"t":1371,"v":12000,"c":"u"},{"t":1375,"v":10000,"c":"d"},{"t":1379,"v":4000,"c":"u"},{"t":1383,"v":3000,"c":"d"},{"t":1387,"v":3000,"c":"u"},{"t":1391,"v":3000,"c":"d"},{"t":1395,"v":3000,"c":"d"}
    ],
    "hdr": [
      {"t":5,"s":"BD#C","k":"n"},
      {"t":45,"s":"15 min","k":"n"},
      {"t":91,"s":"#10 21:59:54 H:142.68 L:142.65 O:142.67","k":"n"},
      {"t":326,"s":"VbP 280 Bars:","k":"n"},
      {"t":410,"s":"Point of Control: 142.80","k":"o"}
    ]
  },
  "vconcat": [
    {
      "width": 1448,
      "height": 843,
      "view": {"fill": "#f2f2f2", "stroke": null},
      "layer": [
        {
          "data": {"values": [{}]},
          "mark": {"type": "rule", "color": "#808080", "strokeDash": [1, 2]},
          "encoding": {
            "x": {"datum": 669, "type": "quantitative", "scale": {"domain": [0, 1448], "nice": false, "zero": false, "padding": 0}, "axis": null},
            "y": {"datum": 144.54, "type": "quantitative", "title": null, "scale": {"domain": [140.824, 144.603], "nice": false, "zero": false, "padding": 0},
              "axis": {"orient": "right", "offset": -50, "format": ".2f", "labelPadding": 3, "title": null, "labelOverlap": false, "tickCount": 200,
                "values": [140.9,141,141.1,141.2,141.3,141.4,141.5,141.6,141.7,141.8,141.9,142,142.1,142.2,142.3,142.4,142.5,142.6,142.7,142.8,142.9,143,143.1,143.2,143.3,143.4,143.5,143.6,143.7,143.8,143.9,144,144.1,144.2,144.3,144.4,144.5]}},
            "y2": {"datum": 140.824}
          }
        },
        {
          "data": {"name": "prof"},
          "mark": {"type": "bar", "size": 9.6, "color": "#00005e", "orient": "horizontal"},
          "encoding": {
            "x": {"field": "a", "type": "quantitative", "axis": null},
            "x2": {"field": "b"},
            "y": {"field": "p", "type": "quantitative", "title": null}
          }
        },
        {
          "data": {"name": "poc"},
          "transform": [{"filter": "datum.k == 'thin'"}],
          "mark": {"type": "rule", "color": "#ff4000", "strokeWidth": 1.5},
          "encoding": {
            "x": {"field": "a", "type": "quantitative", "axis": null},
            "x2": {"field": "b"},
            "y": {"field": "p", "type": "quantitative", "title": null}
          }
        },
        {
          "data": {"name": "price"},
          "mark": {"type": "line", "color": "#0000a0", "strokeWidth": 2},
          "encoding": {
            "x": {"field": "t", "type": "quantitative", "axis": null},
            "y": {"field": "p", "type": "quantitative", "title": null}
          }
        },
        {
          "data": {"name": "price"},
          "mark": {"type": "line", "color": "#00a050", "strokeWidth": 2, "strokeDash": [4, 4]},
          "encoding": {
            "x": {"field": "t", "type": "quantitative", "axis": null},
            "y": {"field": "p", "type": "quantitative", "title": null}
          }
        },
        {
          "data": {"name": "poc"},
          "transform": [{"filter": "datum.k == 'thick'"}],
          "mark": {"type": "rule", "color": "#ff4000", "strokeWidth": 4},
          "encoding": {
            "x": {"field": "a", "type": "quantitative", "axis": null},
            "x2": {"field": "b"},
            "y": {"field": "p", "type": "quantitative", "title": null}
          }
        },
        {
          "data": {"values": [{}]},
          "mark": {"type": "rule", "color": "#000080", "strokeWidth": 1},
          "encoding": {
            "x": {"datum": 0.5, "type": "quantitative", "axis": null},
            "y": {"datum": 144.603, "type": "quantitative", "title": null},
            "y2": {"datum": 140.824}
          }
        },
        {
          "data": {"name": "hdr"},
          "transform": [{"filter": "datum.k == 'n'"}],
          "mark": {"type": "text", "align": "left", "baseline": "middle", "fontSize": 12, "font": "Liberation Sans", "color": "#000080"},
          "encoding": {
            "x": {"field": "t", "type": "quantitative", "axis": null},
            "y": {"datum": 144.572, "type": "quantitative", "title": null},
            "text": {"field": "s"}
          }
        },
        {
          "data": {"name": "hdr"},
          "transform": [{"filter": "datum.k == 'o'"}],
          "mark": {"type": "text", "align": "left", "baseline": "middle", "fontSize": 12, "font": "Liberation Sans", "color": "#ff4000"},
          "encoding": {
            "x": {"field": "t", "type": "quantitative", "axis": null},
            "y": {"datum": 144.572, "type": "quantitative", "title": null},
            "text": {"field": "s"}
          }
        },
        {
          "data": {"values": [{}]},
          "mark": {"type": "rect", "color": "#000080"},
          "encoding": {
            "x": {"datum": 1403, "type": "quantitative", "axis": null},
            "x2": {"datum": 1444},
            "y": {"datum": 142.693, "type": "quantitative", "title": null},
            "y2": {"datum": 142.631}
          }
        },
        {
          "data": {"values": [{}]},
          "mark": {"type": "text", "text": "142.66", "align": "left", "baseline": "middle", "fontSize": 12, "color": "#ffffff"},
          "encoding": {
            "x": {"datum": 1405, "type": "quantitative", "axis": null},
            "y": {"datum": 142.662, "type": "quantitative", "title": null}
          }
        }
      ]
    },
    {
      "width": 1448,
      "height": 117,
      "view": {"fill": "#f2f2f2", "stroke": null},
      "layer": [
        {
          "data": {"name": "vol"},
          "mark": {"type": "bar", "size": 3.5},
          "encoding": {
            "x": {"field": "t", "type": "quantitative", "title": null, "scale": {"domain": [0, 1448], "nice": false, "zero": false, "padding": 0},
              "axis": {"orient": "bottom", "offset": -21, "domain": false, "labelPadding": 1, "title": null, "labelOverlap": false, "tickCount": 200,
                "values": [8,53,109,165,221,277,333,389,445,501,557,613,669,725,781,837,893,949,1005,1061,1117,1173,1229,1285,1341,1376],
                "labelExpr": "['45','1-17','1-18','1-21','1-22','1-23','1-24','1-25','1-28','1-29','1-30','1-31','2-1','2-4','2-5','2-6','2-7','2-8','2-11','2-12','2-13','2-14','2-15','2-18','2-19','16:45'][indexof([8,53,109,165,221,277,333,389,445,501,557,613,669,725,781,837,893,949,1005,1061,1117,1173,1229,1285,1341,1376], datum.value)]"}},
            "y": {"field": "v", "type": "quantitative", "title": null, "scale": {"domain": [-26500, 121250], "nice": false, "zero": false, "padding": 0},
              "axis": {"orient": "right", "offset": -50, "domain": false, "format": "d", "labelPadding": 3, "title": null, "labelOverlap": false, "tickCount": 200, "values": [20000, 40000, 60000, 80000, 100000]}},
            "y2": {"datum": 0},
            "color": {"field": "c", "type": "nominal", "scale": {"domain": ["d", "u"], "range": ["#0000a0", "#00a050"]}, "legend": null}
          }
        },
        {
          "data": {"values": [{}]},
          "mark": {"type": "rule", "color": "#000080"},
          "encoding": {
            "x": {"datum": 0.5, "type": "quantitative", "title": null},
            "x2": {"datum": 1398},
            "y": {"datum": 0, "type": "quantitative", "title": null}
          }
        },
        {
          "data": {"values": [{}]},
          "mark": {"type": "rule", "color": "#000080"},
          "encoding": {
            "x": {"datum": 1398, "type": "quantitative", "title": null},
            "y": {"datum": 0, "type": "quantitative", "title": null},
            "y2": {"datum": 121250}
          }
        },
        {
          "data": {"values": [{}]},
          "mark": {"type": "rule", "color": "#000080"},
          "encoding": {
            "x": {"datum": 0.5, "type": "quantitative", "title": null},
            "y": {"datum": 0, "type": "quantitative", "title": null},
            "y2": {"datum": 121250}
          }
        },
        {
          "data": {"values": [{}]},
          "mark": {"type": "rule", "color": "#808080", "strokeDash": [1, 2]},
          "encoding": {
            "x": {"datum": 669, "type": "quantitative", "title": null},
            "y": {"datum": 98000, "type": "quantitative", "title": null},
            "y2": {"datum": 0}
          }
        },
        {
          "data": {"values": [{}]},
          "mark": {"type": "rule", "color": "#808080", "strokeDash": [1, 2]},
          "encoding": {
            "x": {"datum": 669, "type": "quantitative", "title": null},
            "y": {"datum": 121250, "type": "quantitative", "title": null},
            "y2": {"datum": 108000}
          }
        },
        {
          "data": {"values": [{}]},
          "mark": {"type": "text", "text": "Volume:\u00a0 Volume: 1097", "align": "left", "baseline": "middle", "fontSize": 12, "color": "#000080"},
          "encoding": {
            "x": {"datum": 5, "type": "quantitative", "title": null},
            "y": {"datum": 109900, "type": "quantitative", "title": null}
          }
        },
        {
          "data": {"values": [{}]},
          "mark": {"type": "rect", "color": "#00c000"},
          "encoding": {
            "x": {"datum": 1433, "type": "quantitative", "title": null},
            "x2": {"datum": 1447},
            "y": {"datum": -6300, "type": "quantitative", "title": null},
            "y2": {"datum": -24500}
          }
        },
        {
          "data": {"values": [{}]},
          "mark": {"type": "text", "text": "0", "align": "center", "baseline": "middle", "fontSize": 12, "color": "#000080"},
          "encoding": {
            "x": {"datum": 1440, "type": "quantitative", "title": null},
            "y": {"datum": -15400, "type": "quantitative", "title": null}
          }
        }
      ]
    },
    {
      "width": 1456,
      "height": 42,
      "view": {"fill": "#ffffff", "stroke": null},
      "layer": [
        {
          "data": {"values": [{}]},
          "mark": {"type": "rect", "color": "#adadad"},
          "encoding": {
            "x": {"datum": 0, "type": "quantitative", "scale": {"domain": [0, 1], "nice": false, "zero": false, "padding": 0}, "axis": null},
            "x2": {"datum": 1},
            "y": {"datum": 36, "type": "quantitative", "scale": {"domain": [0, 42], "nice": false, "zero": false, "padding": 0}, "axis": null},
            "y2": {"datum": 42}
          }
        },
        {
          "data": {"values": [{}]},
          "mark": {"type": "text", "text": "22:10:54 19.02.2013", "fontSize": 12, "color": "#000000", "dx": -5, "align": "center", "baseline": "middle", "font": "Liberation Sans"},
          "encoding": {
            "x": {"datum": 0.5, "type": "quantitative", "axis": null},
            "y": {"datum": 18, "type": "quantitative", "axis": null}
          }
        }
      ]
    }
  ]
}
